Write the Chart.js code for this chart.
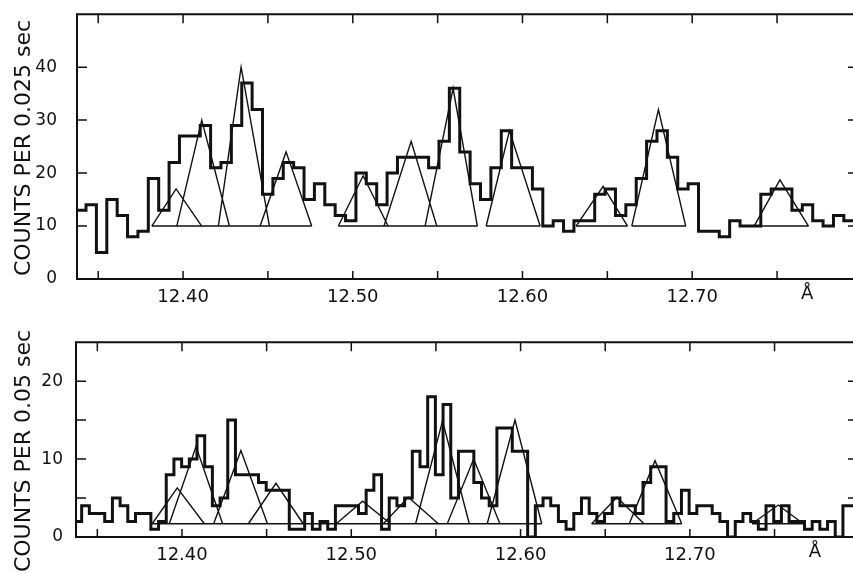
<!DOCTYPE html>
<html>
<head>
<meta charset="utf-8">
<script src="https://cdn.jsdelivr.net/npm/chart.js@4.4.1/dist/chart.umd.min.js"></script>
<style>
  html, body { margin: 0; padding: 0; background: #fff; overflow: hidden; width: 853px; height: 573px; }
  .panel { position: absolute; left: 0; }
  /* the y tick padding also pads the top of the plot, so the top canvas is lifted */
  #topWrap { top: -16px; width: 862px; height: 326px; }
  #botWrap { top: 319px; width: 862px; height: 254px; }
  .ytitle {
    position: absolute;
    font: 22px 'DejaVu Sans', sans-serif;
    color: #111;
    white-space: nowrap;
    transform: translate(-50%, -50%) rotate(-90deg);
  }
</style>
</head>
<body>
<div class="panel" id="topWrap"><canvas id="topChart" width="862" height="326"></canvas></div>
<div class="panel" id="botWrap"><canvas id="botChart" width="862" height="254"></canvas></div>
<div class="ytitle" style="left:22px; top:148px;">COUNTS PER 0.025 sec</div>
<div class="ytitle" style="left:22px; top:451px;">COUNTS PER 0.05 sec</div>

<script>
// Upper spectrum: counts per 0.025 sec, one value per wavelength bin
const topBinStart = 12.3367;   // Å, left edge of first bin
const topBinWidth = 0.006117;  // Å
const topCounts = [
  13, 14, 5, 15, 12, 8, 9, 19, 13, 22,
  27, 27, 29, 21, 22, 29, 37, 32, 16, 19,
  22, 21, 15, 18, 14, 12, 11, 20, 18, 14,
  20, 23, 23, 23, 21, 26, 36, 24, 18, 15,
  21, 28, 21, 21, 17, 10, 11, 9, 11, 11,
  16, 17, 12, 14, 19, 26, 28, 23, 17, 18,
  9, 9, 8, 11, 10, 10, 16, 17, 17, 13,
  14, 11, 10, 12, 11
];

// Upper fitted line profiles (triangles on a level of 10 counts)
const topLevel = 10;
const topLineLeft   = [12.3816, 12.3963, 12.4208, 12.4454, 12.4915, 12.5184, 12.5426, 12.5786, 12.6316, 12.6644, 12.7365];
const topLineCenter = [12.3959, 12.4110, 12.4342, 12.4607, 12.5061, 12.5344, 12.5591, 12.5923, 12.6475, 12.6801, 12.7517];
const topLineRight  = [12.4110, 12.4273, 12.4509, 12.4758, 12.5208, 12.5495, 12.5734, 12.6104, 12.6619, 12.6962, 12.7685];
const topLinePeak   = [17, 30, 40, 24, 19.5, 26, 36, 28, 17.5, 32, 18.7];
const topBaseStart  = [12.3816, 12.4915, 12.5786, 12.6316, 12.6644, 12.7365];
const topBaseEnd    = [12.4758, 12.5734, 12.6104, 12.6619, 12.6962, 12.7685];

// Lower spectrum: counts per 0.05 sec
const botBinStart = 12.3362;
const botBinWidth = 0.004542;
const botCounts = [
  2, 4, 3, 3, 2, 5, 4, 2, 3, 3,
  1, 2, 8, 10, 9, 10, 13, 9, 4, 5,
  15, 8, 8, 8, 7, 6, 6, 6, 1, 1,
  3, 1, 2, 1, 4, 4, 4, 3, 6, 8,
  1, 5, 4, 5, 11, 9, 18, 8, 17, 5,
  11, 11, 7, 5, 4, 14, 14, 11, 11, 0,
  4, 5, 4, 2, 1, 3, 5, 3, 2, 3,
  5, 4, 4, 3, 7, 9, 9, 2, 3, 6,
  3, 4, 4, 3, 2, 0, 2, 3, 2, 1,
  4, 2, 4, 2, 2, 1, 2, 1, 2, 0,
  4, 4
];

const botLevel = 1.7;
const botLineLeft   = [12.3824, 12.3925, 12.4187, 12.4392, 12.4911, 12.5189, 12.5380, 12.5567, 12.5803, 12.6420, 12.6642, 12.7367];
const botLineCenter = [12.3972, 12.4083, 12.4348, 12.4555, 12.5067, 12.5337, 12.5539, 12.5723, 12.5967, 12.6569, 12.6794, 12.7522];
const botLineRight  = [12.4132, 12.4240, 12.4505, 12.4716, 12.5232, 12.5514, 12.5697, 12.5878, 12.6125, 12.6729, 12.6952, 12.7670];
const botLinePeak   = [6.3, 11.6, 11.1, 6.9, 4.6, 5.1, 14.9, 10, 15, 5.1, 9.8, 4.1];
const botBaseStart  = [12.3824, 12.6420, 12.7367];
const botBaseEnd    = [12.6125, 12.6952, 12.7670];

const INK = '#111';
Chart.defaults.font.family = "'DejaVu Sans', sans-serif";
Chart.defaults.color = INK;

// one point per left bin edge, plus the closing right edge
function histPoints(start, width, counts) {
  const pts = counts.map((c, i) => ({ x: start + i * width, y: c }));
  pts.push({ x: start + counts.length * width, y: counts[counts.length - 1] });
  return pts;
}

function trianglePoints(left, center, right, peak, level) {
  const pts = [];
  left.forEach((l, i) => {
    pts.push({ x: l, y: level }, { x: center[i], y: peak[i] }, { x: right[i], y: level }, { x: right[i], y: null });
  });
  return pts;
}

function levelPoints(starts, ends, level) {
  const pts = [];
  starts.forEach((s, i) => {
    pts.push({ x: s, y: level }, { x: ends[i], y: level }, { x: ends[i], y: null });
  });
  return pts;
}

// frame with inward tick marks on all four sides, plus the Å unit
const framePlugin = {
  id: 'frame',
  afterDatasetsDraw(chart, args, opts) {
    const { ctx, chartArea: a, scales: { x, y } } = chart;
    ctx.save();
    ctx.strokeStyle = INK;
    ctx.lineWidth = 2;
    ctx.beginPath();
    ctx.rect(a.left, a.top, a.right - a.left, a.bottom - a.top);
    ctx.stroke();

    ctx.lineWidth = 1.5;
    ctx.beginPath();
    y.ticks.forEach(t => {
      if (t.value <= y.min || t.value >= y.max) return;
      const py = y.getPixelForValue(t.value);
      ctx.moveTo(a.left, py); ctx.lineTo(a.left + 10, py);
      ctx.moveTo(a.right, py); ctx.lineTo(a.right - 10, py);
    });
    x.ticks.forEach(t => {
      const px = x.getPixelForValue(t.value);
      ctx.moveTo(px, a.top); ctx.lineTo(px, a.top + 9);
      ctx.moveTo(px, a.bottom); ctx.lineTo(px, a.bottom - 8);
    });
    ctx.stroke();

    ctx.fillStyle = INK;
    ctx.font = "18px 'DejaVu Sans', sans-serif";
    ctx.textAlign = 'center';
    ctx.textBaseline = 'middle';
    ctx.fillText('Å', x.getPixelForValue(opts.unitAt), a.bottom + 15);
    ctx.restore();
  }
};

function makePanel(canvasId, cfg) {
  return new Chart(document.getElementById(canvasId), {
    type: 'line',
    data: {
      datasets: [
        {
          data: histPoints(cfg.binStart, cfg.binWidth, cfg.counts),
          stepped: 'before',
          borderColor: INK,
          borderWidth: 3,
          borderJoinStyle: 'miter',
          pointRadius: 0,
          fill: false
        },
        {
          data: trianglePoints(cfg.left, cfg.center, cfg.right, cfg.peak, cfg.level),
          borderColor: INK,
          borderWidth: 1.4,
          pointRadius: 0,
          tension: 0,
          fill: false
        },
        {
          data: levelPoints(cfg.baseStart, cfg.baseEnd, cfg.level),
          borderColor: INK,
          borderWidth: 1.4,
          pointRadius: 0,
          fill: false
        }
      ]
    },
    options: {
      responsive: false,
      animation: false,
      devicePixelRatio: 1,
      layout: { padding: { top: cfg.padTop, right: 4, left: 0, bottom: 0 } },
      plugins: {
        legend: { display: false },
        tooltip: { enabled: false },
        frame: { unitAt: cfg.unitAt }
      },
      scales: {
        x: {
          type: 'linear',
          min: cfg.xMin,
          max: cfg.xMax,
          afterFit: s => { s.height = cfg.xAxisHeight; },
          grid: { display: false, drawTicks: false },
          border: { display: false },
          ticks: {
            stepSize: 0.05,
            includeBounds: false,
            autoSkip: false,
            maxRotation: 0,
            padding: 8,
            font: { size: 18 },
            callback: v => (Math.abs(v * 10 - Math.round(v * 10)) < 1e-6 ? v.toFixed(2) : '')
          }
        },
        y: {
          min: 0,
          max: cfg.yMax,
          afterFit: s => { s.width = cfg.yAxisWidth; },
          grid: { display: false, drawTicks: false },
          border: { display: false },
          ticks: {
            stepSize: cfg.yStep,
            padding: cfg.yPad,
            font: { size: 17 },
            callback: cfg.yLabel
          }
        }
      }
    },
    plugins: [framePlugin]
  });
}

makePanel('topChart', {
  binStart: topBinStart, binWidth: topBinWidth, counts: topCounts,
  left: topLineLeft, center: topLineCenter, right: topLineRight, peak: topLinePeak, level: topLevel,
  baseStart: topBaseStart, baseEnd: topBaseEnd,
  xMin: 12.3375, xMax: 12.7977, yMax: 50, yStep: 10,
  yLabel: v => (v <= 40 ? v : ''),
  padTop: 30, xAxisHeight: 31, yAxisWidth: 77, yPad: 20, unitAt: 12.7677
});

makePanel('botChart', {
  binStart: botBinStart, binWidth: botBinWidth, counts: botCounts,
  left: botLineLeft, center: botLineCenter, right: botLineRight, peak: botLinePeak, level: botLevel,
  baseStart: botBaseStart, baseEnd: botBaseEnd,
  xMin: 12.3374, xMax: 12.7993, yMax: 25, yStep: 5,
  yLabel: v => (v % 10 === 0 ? v : ''),
  padTop: 23, xAxisHeight: 36, yAxisWidth: 76, yPad: 13, unitAt: 12.7739
});
</script>
</body>
</html>
